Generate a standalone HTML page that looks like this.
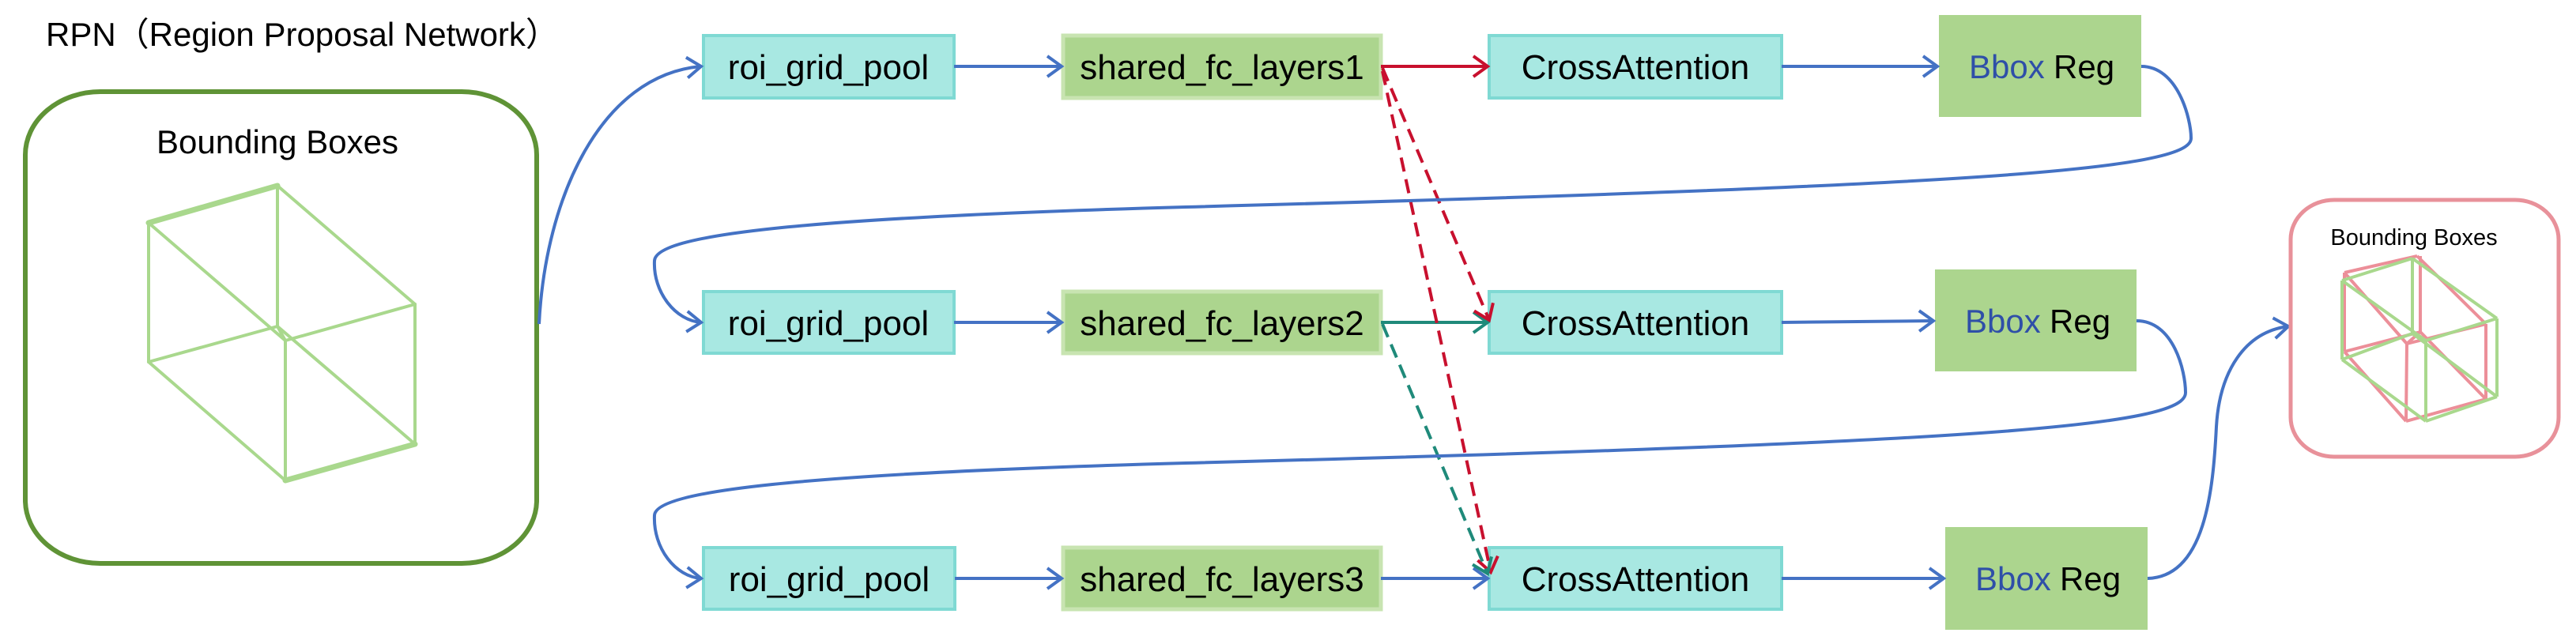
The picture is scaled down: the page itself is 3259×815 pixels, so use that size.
<!DOCTYPE html>
<html><head><meta charset="utf-8"><style>
html,body{margin:0;padding:0;background:#fff;}
svg{display:block;}
text{font-family:"Liberation Sans",sans-serif;}
</style></head><body>
<svg width="3259" height="815" viewBox="0 0 3259 815" xmlns="http://www.w3.org/2000/svg">
<defs>
<marker id="ab" markerWidth="30" markerHeight="30" refX="24" refY="15" orient="auto" markerUnits="userSpaceOnUse"><path d="M6,2 L24,15 L6,28" fill="none" stroke="#4472c4" stroke-width="4"/></marker>
<marker id="ar" markerWidth="30" markerHeight="30" refX="24" refY="15" orient="auto" markerUnits="userSpaceOnUse"><path d="M6,2 L24,15 L6,28" fill="none" stroke="#c8102e" stroke-width="4"/></marker>
<marker id="ag" markerWidth="30" markerHeight="30" refX="24" refY="15" orient="auto" markerUnits="userSpaceOnUse"><path d="M6,2 L24,15 L6,28" fill="none" stroke="#1f8a7a" stroke-width="4"/></marker>
</defs>

<text x="58" y="58" font-size="42" fill="#000">RPN（Region Proposal Network）</text>

<rect x="32" y="116" width="647" height="597" rx="95" ry="80" fill="#fff" stroke="#5f9336" stroke-width="6"/>
<text x="351" y="194" font-size="42" text-anchor="middle" fill="#000">Bounding Boxes</text>
<g stroke="#a9d88d" stroke-width="4" fill="none" stroke-linecap="round">
<line x1="188" y1="282" x2="351" y2="235" stroke-width="7"/>
<line x1="351" y1="235" x2="525" y2="385"/>
<line x1="525" y1="385" x2="525" y2="562"/>
<line x1="525" y1="562" x2="361" y2="608" stroke-width="7"/>
<line x1="361" y1="608" x2="188" y2="458"/>
<line x1="188" y1="458" x2="188" y2="282"/>
<line x1="188" y1="282" x2="361" y2="431"/>
<line x1="351" y1="235" x2="351" y2="413"/>
<line x1="188" y1="458" x2="351" y2="413"/>
<line x1="351" y1="413" x2="361" y2="431"/>
<line x1="361" y1="431" x2="361" y2="608"/>
<line x1="361" y1="431" x2="525" y2="385"/>
<line x1="351" y1="413" x2="525" y2="562"/>
</g>

<g stroke="#7fd9d3" stroke-width="4" fill="#a8e8e2">
<rect x="890" y="45" width="317" height="79"/>
<rect x="890" y="369" width="317" height="78"/>
<rect x="890" y="693" width="318" height="78"/>
<rect x="1884" y="45" width="370" height="79"/>
<rect x="1884" y="369" width="370" height="78"/>
<rect x="1884" y="693" width="370" height="78"/>
</g>
<g stroke="#c8e4b1" stroke-width="5" fill="#acd58e">
<rect x="1345" y="45" width="402" height="79"/>
<rect x="1345" y="369" width="402" height="78"/>
<rect x="1345" y="693" width="402" height="78"/>
</g>
<g fill="#acd58e">
<rect x="2453" y="19" width="256" height="129"/>
<rect x="2448" y="341" width="255" height="129"/>
<rect x="2461" y="667" width="256" height="130"/>
</g>

<g font-size="44" fill="#000" text-anchor="middle">
<text x="1048" y="100">roi_grid_pool</text>
<text x="1048" y="424">roi_grid_pool</text>
<text x="1049" y="748">roi_grid_pool</text>
<text x="1546" y="100">shared_fc_layers1</text>
<text x="1546" y="424">shared_fc_layers2</text>
<text x="1546" y="748">shared_fc_layers3</text>
<text x="2069" y="100">CrossAttention</text>
<text x="2069" y="424">CrossAttention</text>
<text x="2069" y="748">CrossAttention</text>
</g>
<g font-size="42">
<text x="2491" y="99" fill="#2f4fa8">Bbox</text><text x="2598" y="99" fill="#000">Reg</text>
<text x="2486" y="421" fill="#2f4fa8">Bbox</text><text x="2593" y="421" fill="#000">Reg</text>
<text x="2499" y="747" fill="#2f4fa8">Bbox</text><text x="2606" y="747" fill="#000">Reg</text>
</g>

<g stroke-width="4" fill="none">
<line x1="1207" y1="84" x2="1343" y2="84" stroke="#4472c4" marker-end="url(#ab)"/>
<line x1="1207" y1="408" x2="1343" y2="408" stroke="#4472c4" marker-end="url(#ab)"/>
<line x1="1208" y1="732" x2="1343" y2="732" stroke="#4472c4" marker-end="url(#ab)"/>
<line x1="1747" y1="84" x2="1882" y2="84" stroke="#c8102e" marker-end="url(#ar)"/>
<line x1="1747" y1="408" x2="1882" y2="408" stroke="#1f8a7a" marker-end="url(#ag)"/>
<line x1="1747" y1="732" x2="1882" y2="732" stroke="#4472c4" marker-end="url(#ab)"/>
<line x1="2254" y1="84" x2="2451" y2="84" stroke="#4472c4" marker-end="url(#ab)"/>
<line x1="2254" y1="408" x2="2446" y2="406" stroke="#4472c4" marker-end="url(#ab)"/>
<line x1="2254" y1="732" x2="2459" y2="732" stroke="#4472c4" marker-end="url(#ab)"/>
<line x1="1749" y1="86" x2="1884" y2="405" stroke="#c8102e" stroke-dasharray="18,10" marker-end="url(#ar)"/>
<line x1="1749" y1="90" x2="1886" y2="724" stroke="#c8102e" stroke-dasharray="18,10" marker-end="url(#ar)"/>
<line x1="1749" y1="410" x2="1882" y2="726" stroke="#1f8a7a" stroke-dasharray="18,10" marker-end="url(#ag)"/>
</g>

<g stroke="#4472c4" stroke-width="4" fill="none">
<path d="M682,410 C690,250 760,95 887,84" marker-end="url(#ab)"/>
<path d="M2709,84 C2755,84 2772,150 2772,175 C2772,215 2500,235 1500,262 C1000,276 830,298 828,330 C826,370 855,406 887,408" marker-end="url(#ab)"/>
<path d="M2703,406 C2750,406 2765,470 2765,497 C2765,540 2500,560 1500,586 C1000,600 830,622 828,652 C826,694 855,730 887,732" marker-end="url(#ab)"/>
<path d="M2717,732 C2790,730 2800,620 2804,540 C2808,470 2840,420 2895,413" marker-end="url(#ab)"/>
</g>

<rect x="2898" y="253" width="339" height="325" rx="55" ry="50" fill="#fff" stroke="#e8919a" stroke-width="5"/>
<text x="3054" y="310" font-size="29" text-anchor="middle" fill="#000">Bounding Boxes</text>
<g stroke="#ec8f99" stroke-width="4" fill="none">
<line x1="2966" y1="345" x2="3058" y2="324"/>
<line x1="3058" y1="324" x2="3145" y2="410"/>
<line x1="3145" y1="410" x2="3145" y2="505"/>
<line x1="3145" y1="505" x2="3044" y2="533"/>
<line x1="3044" y1="533" x2="2966" y2="445"/>
<line x1="2966" y1="445" x2="2966" y2="345"/>
<line x1="3062" y1="324" x2="3062" y2="420"/>
<line x1="2966" y1="445" x2="3062" y2="420"/>
<line x1="3062" y1="420" x2="3045" y2="435"/>
<line x1="3045" y1="435" x2="3044" y2="533"/>
<line x1="3045" y1="435" x2="3145" y2="410"/>
<line x1="2966" y1="345" x2="3045" y2="435"/>
<line x1="3062" y1="420" x2="3145" y2="505"/>
</g>
<g stroke="#a9d88d" stroke-width="4" fill="none">
<line x1="2963" y1="355" x2="3052" y2="327"/>
<line x1="3052" y1="327" x2="3159" y2="403"/>
<line x1="3159" y1="403" x2="3159" y2="502"/>
<line x1="3159" y1="502" x2="3069" y2="533"/>
<line x1="3069" y1="533" x2="2963" y2="455"/>
<line x1="2963" y1="455" x2="2963" y2="355"/>
<line x1="2963" y1="355" x2="3069" y2="431"/>
<line x1="3052" y1="327" x2="3052" y2="422"/>
<line x1="2963" y1="455" x2="3052" y2="422"/>
<line x1="3052" y1="422" x2="3069" y2="431"/>
<line x1="3069" y1="431" x2="3069" y2="533"/>
<line x1="3069" y1="431" x2="3159" y2="403"/>
<line x1="3052" y1="422" x2="3159" y2="502"/>
</g>
</svg>
</body></html>
